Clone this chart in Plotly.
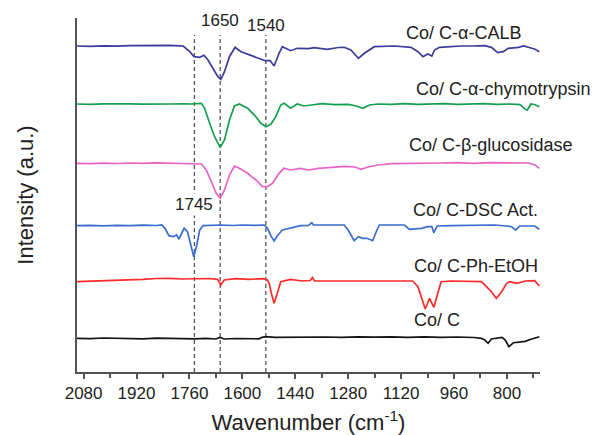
import plotly.graph_objects as go

# ---------------- data ----------------
calb_wn = [2100, 2060, 2020, 1980, 1940, 1900, 1860, 1820, 1790, 1779, 1759, 1746, 1729, 1716, 1704, 1689, 1674, 1665,
           1654, 1639, 1622, 1604, 1584, 1559, 1531, 1516, 1504, 1489, 1479, 1454, 1434, 1400, 1383, 1343, 1310, 1292,
           1272, 1249, 1231, 1201, 1170, 1140, 1090, 1069, 1054, 1039, 1027, 1019, 1004, 970, 938, 900, 867, 847, 828,
           811, 796, 765, 750, 735, 715, 702]
calb_int = [326.0, 325.7, 326.2, 325.8, 326.3, 326.5, 326.2, 326.7, 326.2, 326.0, 320.3, 315.3, 314.7, 316.7, 312.0,
            303.7, 295.3, 292.7, 300.3, 315.3, 324.7, 320.3, 318.0, 315.3, 311.3, 311.3, 306.0, 318.7, 325.3, 321.3,
            323.7, 323.3, 324.3, 322.7, 324.5, 324.7, 322.0, 313.7, 318.7, 325.3, 326.0, 326.0, 324.7, 320.3, 315.3,
            318.0, 316.0, 322.0, 324.7, 325.5, 326.0, 326.0, 326.3, 324.7, 319.3, 320.3, 323.7, 324.7, 326.0, 324.7,
            322.7, 320.3]

chymo_wn = [2100, 2060, 2020, 1980, 1940, 1900, 1860, 1820, 1780, 1754, 1724, 1714, 1699, 1684, 1667, 1654, 1639, 1624,
            1609, 1584, 1559, 1544, 1529, 1514, 1499, 1484, 1474, 1454, 1434, 1414, 1390, 1360, 1320, 1280, 1255, 1236,
            1215, 1190, 1150, 1110, 1070, 1030, 990, 950, 910, 870, 830, 790, 760, 745, 738, 728, 715, 702]
chymo_int = [268.0, 267.7, 268.2, 267.8, 268.1, 267.9, 268.3, 268.0, 268.2, 268.0, 268.7, 263.7, 248.7, 235.3, 224.7,
             232.0, 252.0, 266.0, 268.0, 263.7, 255.3, 248.7, 245.3, 247.7, 255.3, 267.0, 268.7, 263.7, 268.0, 266.0,
             267.0, 268.3, 267.3, 267.7, 266.0, 263.7, 267.0, 268.0, 267.7, 268.3, 267.7, 268.0, 268.3, 267.7, 268.0,
             268.3, 267.7, 268.0, 267.3, 262.7, 262.0, 268.0, 267.3, 265.3]

gluco_wn = [2100, 2060, 2020, 1980, 1940, 1900, 1860, 1820, 1780, 1754, 1724, 1709, 1694, 1679, 1667, 1654, 1639, 1624,
            1609, 1584, 1559, 1539, 1524, 1509, 1489, 1474, 1454, 1424, 1400, 1370, 1330, 1290, 1260, 1241, 1220, 1190,
            1150, 1100, 1050, 1000, 950, 900, 850, 800, 760, 735, 715, 702]
gluco_int = [208.7, 208.4, 208.9, 208.5, 209.0, 208.6, 209.2, 208.8, 208.7, 208.7, 208.0, 202.0, 190.3, 178.7, 173.7,
             182.0, 197.0, 206.0, 203.7, 198.7, 192.0, 185.3, 185.3, 188.7, 198.7, 203.7, 202.0, 203.7, 202.0, 203.7,
             204.7, 205.7, 205.0, 202.7, 205.0, 207.0, 208.3, 208.7, 209.3, 209.0, 209.3, 208.7, 209.3, 209.0, 208.7,
             209.0, 207.0, 203.7]

dsc_wn = [2100, 2060, 2020, 1980, 1940, 1900, 1860, 1844, 1834, 1822, 1809, 1799, 1792, 1784, 1776, 1766, 1756, 1747,
          1739, 1729, 1719, 1690, 1664, 1630, 1600, 1560, 1534, 1524, 1514, 1504, 1494, 1479, 1454, 1424, 1400, 1390,
          1385, 1340, 1292, 1280, 1262, 1249, 1236, 1223, 1206, 1193, 1186, 1150, 1110, 1095, 1059, 1039, 1027, 1021,
          1011, 970, 938, 880, 837, 800, 786, 774, 761, 740, 716, 702]
dsc_int = [146.3, 146.6, 146.1, 146.7, 146.3, 146.8, 146.5, 147.0, 143.7, 136.3, 135.3, 137.0, 133.0, 138.7, 143.7,
           140.3, 127.0, 115.3, 125.3, 142.0, 146.3, 146.7, 147.0, 146.5, 147.0, 146.7, 147.0, 143.7, 136.3, 131.0,
           136.3, 142.0, 144.3, 146.3, 146.7, 149.3, 147.0, 146.7, 147.0, 142.0, 131.3, 135.3, 133.7, 133.7, 131.3,
           142.0, 147.0, 147.0, 147.0, 142.7, 143.7, 145.3, 145.3, 139.3, 146.0, 146.3, 146.3, 146.7, 147.0, 146.0,
           145.3, 142.0, 146.0, 146.0, 146.0, 142.7]

pheto_wn = [2100, 2060, 2020, 1980, 1940, 1900, 1860, 1820, 1780, 1740, 1700, 1675, 1665, 1655, 1620, 1580, 1535, 1524,
            1519, 1511, 1504, 1496, 1484, 1454, 1420, 1395, 1388, 1382, 1340, 1290, 1240, 1190, 1140, 1085, 1069, 1059,
            1047, 1034, 1021, 1009, 999, 970, 938, 900, 877, 862, 847, 832, 816, 801, 791, 770, 745, 716, 702]
pheto_int = [90.3, 90.7, 91.5, 91.7, 92.2, 92.7, 93.5, 93.7, 93.0, 93.3, 93.5, 92.7, 87.0, 92.0, 93.3, 92.7, 93.3, 92.0,
             88.7, 77.0, 68.7, 77.0, 90.3, 92.7, 91.0, 91.5, 94.5, 91.0, 91.0, 91.3, 91.7, 91.3, 91.7, 91.0, 85.3, 75.3,
             63.0, 73.7, 64.7, 78.7, 90.3, 91.0, 91.0, 91.0, 90.3, 85.3, 80.3, 73.7, 80.3, 88.7, 90.3, 88.7, 91.0, 91.3,
             86.0]

coc_wn = [2100, 2060, 2020, 1980, 1940, 1900, 1860, 1820, 1780, 1745, 1710, 1680, 1667, 1655, 1620, 1580, 1550, 1540,
          1530, 1500, 1450, 1400, 1350, 1300, 1250, 1200, 1150, 1100, 1050, 1000, 950, 900, 877, 867, 857, 847, 830,
          815, 805, 794, 780, 765, 745, 725, 710, 702]
coc_int = [33.7, 33.3, 34.0, 33.5, 33.7, 33.2, 33.8, 33.4, 33.7, 33.2, 33.7, 33.0, 34.5, 33.0, 33.5, 33.3, 33.2, 34.7,
           35.3, 34.7, 35.0, 34.7, 35.0, 34.7, 35.2, 34.8, 35.2, 34.7, 35.1, 34.7, 35.0, 34.5, 33.7, 32.0, 28.7, 33.0,
           34.0, 34.7, 32.0, 25.3, 29.3, 30.0, 30.7, 33.0, 35.0, 35.3]

series_names = ["Co/ C-α-CALB", "Co/ C-α-chymotrypsin", "Co/ C-β-glucosidase",
                "Co/ C-DSC Act.", "Co/ C-Ph-EtOH", "Co/ C"]
series_wn = [calb_wn, chymo_wn, gluco_wn, dsc_wn, pheto_wn, coc_wn]
series_int = [calb_int, chymo_int, gluco_int, dsc_int, pheto_int, coc_int]

marker_wn = [1745, 1667, 1529]
marker_labels = ["1745", "1650", "1540"]

tick_vals = [2080, 1920, 1760, 1600, 1440, 1280, 1120, 960, 800]
minor_vals = [2000, 1840, 1680, 1520, 1360, 1200, 1040, 880, 720]

# ---------------- styling ----------------
colors = ["#3c3c9c", "#14a050", "#e864c8", "#3a6cd0", "#ff2a2a", "#141414"]
label_pos = [(0.706, 0.958), (0.728, 0.799), (0.713, 0.641), (0.722, 0.458), (0.724, 0.299), (0.724, 0.147)]
marker_label_pos = [(0.472, "white"), (0.994, None), (0.980, None)]

FONT = "Liberation Sans, Arial, sans-serif"

fig = go.Figure()
for name, wn, yv, c in zip(series_names, series_wn, series_int, colors):
    fig.add_trace(go.Scatter(x=wn, y=yv, mode="lines", name=name,
                             line=dict(color=c, width=1.7), showlegend=False))

for wn in marker_wn:
    fig.add_shape(type="line", xref="x", yref="paper", x0=wn, x1=wn, y0=0, y1=0.952,
                  line=dict(color="#555555", width=1.3, dash="4px,3px"), layer="below")

for wn, txt, (yp, bg) in zip(marker_wn, marker_labels, marker_label_pos):
    fig.add_annotation(x=wn, y=yp, xref="x", yref="paper", text=txt, showarrow=False,
                       font=dict(family=FONT, size=17, color="#222"),
                       bgcolor=bg if bg else "rgba(0,0,0,0)", xanchor="center", yanchor="middle")

for name, (xp, yp) in zip(series_names, label_pos):
    fig.add_annotation(x=xp, y=yp, xref="paper", yref="paper", text=name, showarrow=False,
                       font=dict(family=FONT, size=18, color="#222"),
                       xanchor="left", yanchor="middle")

fig.update_layout(
    width=597, height=435,
    margin=dict(l=77, r=57, t=18, b=63),
    paper_bgcolor="white", plot_bgcolor="white",
    font=dict(family=FONT, color="#222"),
    xaxis=dict(range=[2100, 700], tickmode="array", tickvals=tick_vals,
               ticktext=[str(v) for v in tick_vals],
               ticks="outside", ticklen=5, tickwidth=1.5, tickcolor="#555",
               minor=dict(tickmode="array", tickvals=minor_vals, ticks="outside",
                          ticklen=4, tickwidth=1.5, tickcolor="#555"),
               showline=True, linecolor="#555", linewidth=2,
               showgrid=False, zeroline=False,
               tickfont=dict(family=FONT, size=17, color="#222"),
               title=dict(text="Wavenumber (cm<sup>-1</sup>)",
                          font=dict(family=FONT, size=22, color="#222"), standoff=13),
               automargin=False),
    yaxis=dict(range=[0, 354], showline=True, linecolor="#555", linewidth=2,
               showticklabels=False, ticks="", showgrid=False, zeroline=False,
               title=dict(text="Intensity (a.u.)",
                          font=dict(family=FONT, size=22, color="#222"), standoff=35),
               automargin=False),
)

fig.write_html("out.html", config={"displayModeBar": False},
               post_script="document.body.style.margin='0';document.body.style.overflow='hidden';")
